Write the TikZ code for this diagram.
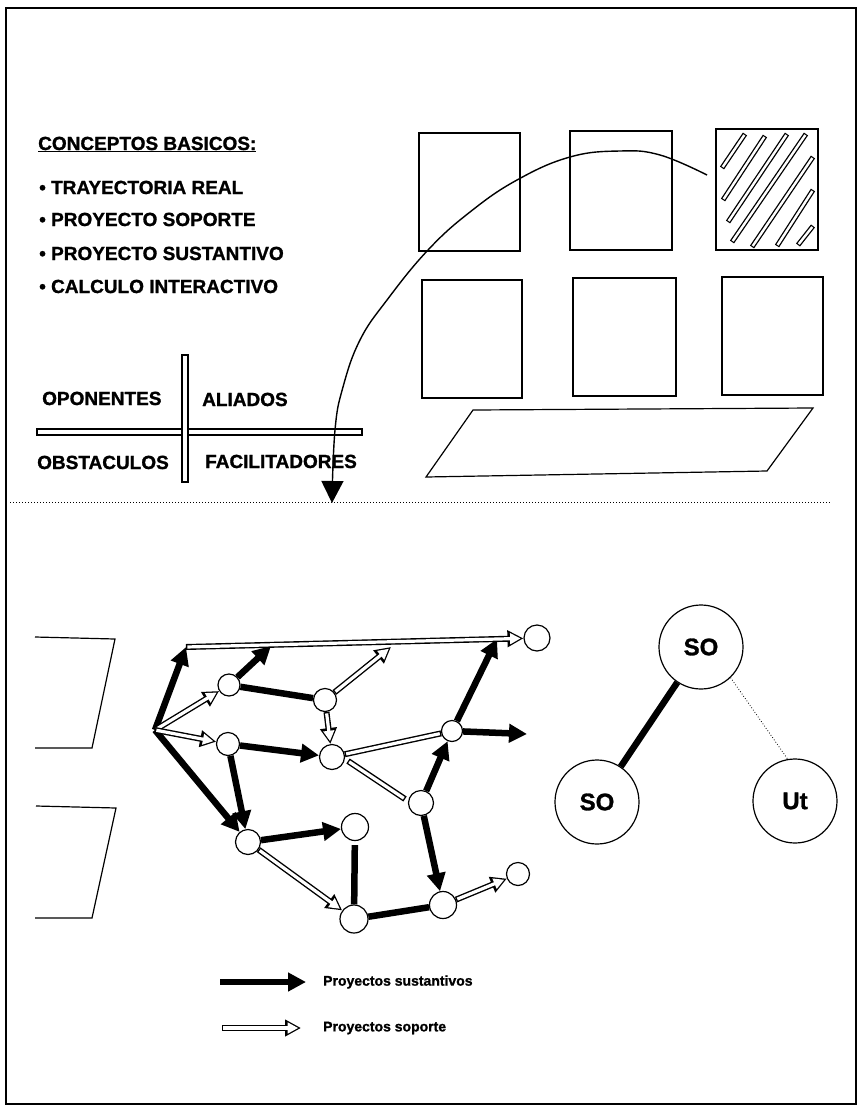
\documentclass[tikz,border=0pt]{standalone}
\usepackage{fontspec}
\setmainfont{Liberation Sans}
\newfontfamily\hv{Liberation Sans Bold}[FakeBold=1.2]
\usetikzlibrary{arrows.meta}
\begin{document}
\begin{tikzpicture}[x=1pt,y=-1pt,
  txt/.style={font=\hv\fontsize{19}{21}\selectfont, anchor=base west, inner sep=0pt},
  lgd/.style={font=\hv\fontsize{14}{16}\selectfont, anchor=west, inner sep=0pt},
  frm/.style={line width=1.5pt},
  box/.style={draw, line width=1.3pt},
  thin/.style={line width=1.2pt},
  nd/.style={circle, draw, line width=1.2pt, fill=white, inner sep=0pt, minimum size=#1},
  nd/.default=24pt,
  so/.style={circle, draw, line width=1.2pt, minimum size=84pt, inner sep=0pt, font=\hv\fontsize{24}{26}\selectfont},
  sus/.style={line width=6.5pt, -{Triangle[length=18pt,width=18pt]}},
  susl/.style={line width=6.5pt},
  sop/.style={line width=6pt, -{Triangle[length=16pt,width=16pt]}, postaction={draw=white, line width=3.2pt, shorten <=1.4pt, shorten >=2.8pt, -{Triangle[length=10.5pt,width=10.5pt]}}},
  sopl/.style={line width=6pt, postaction={draw=white, line width=3.2pt, shorten <=1.4pt, shorten >=1.4pt}},
  hat/.style={line width=5pt, postaction={draw=white, line width=2.4pt, shorten <=1.2pt, shorten >=1.2pt}},
  bar/.style={draw, line width=1.1pt, fill=white},
]
\useasboundingbox (0,0) rectangle (859,1106);
% frame
\draw[frm] (6,8) rectangle (856,1104);

% ---- concepts text
\node[txt] (t0) at (38,150) {\underline{CONCEPTOS BASICOS:}};
\node[txt] (t1) at (39,194) {\textbullet\ TRAYECTORIA REAL};
\node[txt] (t2) at (39,226) {\textbullet\ PROYECTO SOPORTE};
\node[txt] (t3) at (39,260) {\textbullet\ PROYECTO SUSTANTIVO};
\node[txt] (t4) at (39,293) {\textbullet\ CALCULO INTERACTIVO};

% ---- quadrant
\draw[bar] (37,429) rectangle (362,435);
\draw[bar] (182,355) rectangle (188,482);
\node[txt] (q1) at (42,405) {OPONENTES};
\node[txt] (q2) at (202,406) {ALIADOS};
\node[txt] (q3) at (37,469) {OBSTACULOS};
\node[txt] (q4) at (205,468) {FACILITADORES};

% ---- squares
\draw[box] (419,133) rectangle (520,251);
\draw[box] (570,131) rectangle (672,250);
\draw[box] (716,129) rectangle (818,250);
\draw[box] (422,280) rectangle (522,398);
\draw[box] (573,278) rectangle (676,396);
\draw[box] (722,277) rectangle (823,395);
\draw[thin] (473,410) -- (813,408) -- (767,471) -- (426,477) -- cycle;
% hatching
\draw[hat] (722,168) -- (745,134);
\draw[hat] (723,200) -- (765,136);
\draw[hat] (728,222) -- (787,134);
\draw[hat] (732,242) -- (806,134);
\draw[hat] (752,247) -- (813,157);
\draw[hat] (777,246) -- (813,190);
\draw[hat] (798,245) -- (813,226);

% ---- big curve
\coordinate (cstart) at (707,175);
\coordinate (cend) at (332,503);
\draw[line width=1.4pt, -{Triangle[length=22pt,width=22pt]}] plot[smooth, tension=0.7] coordinates {(cstart) (660,155) (620,151) (570,157) (517,180) (470,212) (428,250) (387,300) (360,340) (343,387) (335,430) (cend)};

% dotted separator
\draw[line width=1pt, dotted] (10,502) -- (830,502);

% ---- left trapezoids
\draw[thin] (35,637) -- (115,639) -- (92,748) -- (35,748);
\draw[thin] (36,806) -- (116,808) -- (92,918) -- (35,918);

% ---- network
\coordinate (S) at (155,730);
\coordinate (c0) at (186,647);
\coordinate (f1) at (271,646);
\coordinate (f2) at (391,647);
\coordinate (f3) at (497,639);
\coordinate (f4) at (527,734);
\coordinate (g1) at (348,761);
\coordinate (g2) at (405,799);
\node[nd=26pt] (nT) at (537,638) {};
\node[nd=22pt] (n1) at (229,685) {};
\node[nd=23pt] (n2) at (228,744) {};
\node[nd=25pt] (n3) at (248,842) {};
\node[nd=23pt] (n4) at (325,700) {};
\node[nd=25pt] (n5) at (332,757) {};
\node[nd=21pt] (n6) at (452,731) {};
\node[nd=25pt] (n7) at (421,803) {};
\node[nd=27pt] (n8) at (355,827) {};
\node[nd=27pt] (n9) at (443,905) {};
\node[nd=28pt] (n10) at (354,919) {};
\node[nd=23pt] (n11) at (518,874) {};

\draw[sus] (S) -- (c0);
\draw[sus] (S) -- (n3);
\draw[sus] (n1) -- (f1);
\draw[susl] (n1) -- (n4);
\draw[sus] (n2) -- (n5);
\draw[sus] (n2) -- (n3);
\draw[sus] (n6) -- (f3);
\draw[sus] (n6) -- (f4);
\draw[sus] (n7) -- (n6);
\draw[sus] (n7) -- (n9);
\draw[sus] (n3) -- (n8);
\draw[susl, shorten <=4pt] (n8) -- (n10);
\draw[susl] (n10) -- (n9);

\draw[sop] (c0) -- (nT);
\draw[sop] (S) -- (n1);
\draw[sop] (S) -- (n2);
\draw[sop] (n4) -- (f2);
\draw[sop] (n4) -- (n5);
\draw[sopl] (n5) -- (n6);
\draw[sopl] (g1) -- (g2);
\draw[sop] (n3) -- (n10);
\draw[sop] (n9) -- (n11);

% ---- SO diagram
\node[so] (A) at (701,647) {SO};
\node[so] (B) at (597,802) {SO};
\node[so] (C) at (795,801) {Ut};
\draw[line width=6.5pt] (A) -- (B);
\draw[line width=0.8pt, dotted] (A.-46) -- (C.100);

% ---- legend
\coordinate (l1a) at (220,982);
\coordinate (l1b) at (306,982);
\coordinate (l2a) at (222,1028);
\coordinate (l2b) at (301,1028);
\draw[sus] (l1a) -- (l1b);
\draw[sop] (l2a) -- (l2b);
\node[lgd] (lt1) at (323,982) {Proyectos sustantivos};
\node[lgd] (lt2) at (323,1028) {Proyectos soporte};
\end{tikzpicture}
\end{document}
